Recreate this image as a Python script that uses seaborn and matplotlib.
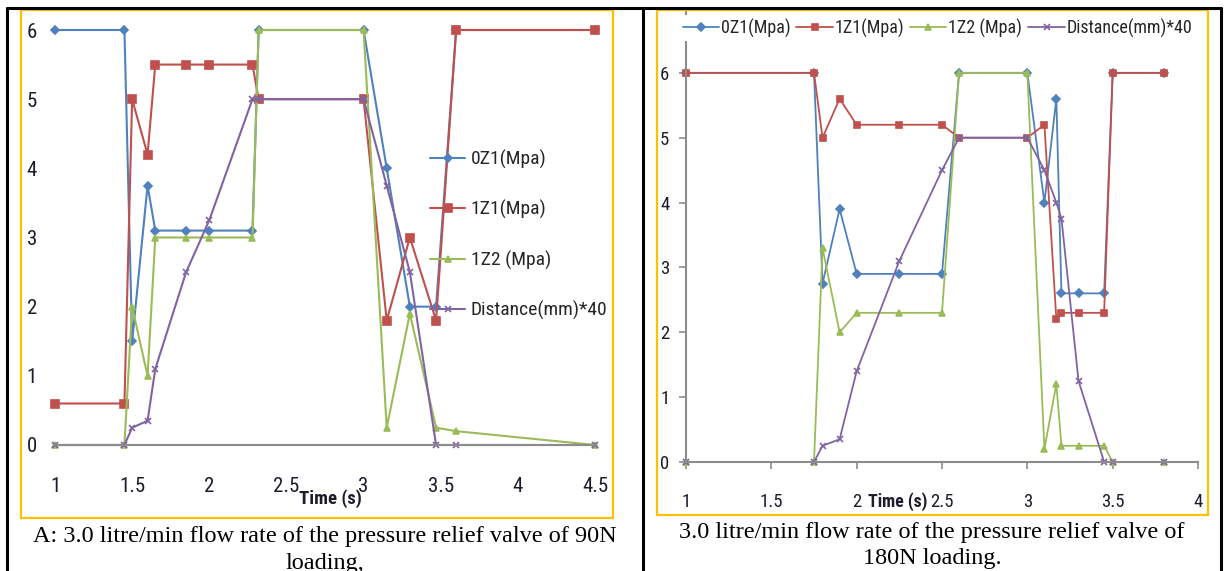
import numpy as np
import pandas as pd
import seaborn as sns
import matplotlib.pyplot as plt
from matplotlib import font_manager
from matplotlib.patches import Rectangle
from matplotlib.lines import Line2D

# series names and colours (Excel 2007 palette)
series = ['0Z1(Mpa)', '1Z1(Mpa)', '1Z2 (Mpa)', 'Distance(mm)*40']
colors = ['#4F81BD', '#C0504D', '#9BBB59', '#8064A2']
markers = ['D', 's', '^', 'x']

# panel A: 90N loading
time_a = [1, 1.45, 1.5, 1.6, 1.65, 1.85, 2.0, 2.28, 2.32, 3.0, 3.15, 3.3, 3.47, 3.6, 4.5]
oz1_a = [6, 6, 1.5, 3.75, 3.1, 3.1, 3.1, 3.1, 6, 6, 4.0, 2.0, 2.0, 6, 6]
z11_a = [0.6, 0.6, 5.0, 4.2, 5.5, 5.5, 5.5, 5.5, 5.0, 5.0, 1.8, 3.0, 1.8, 6, 6]
z12_a = [0, 0, 2.0, 1.0, 3.0, 3.0, 3.0, 3.0, 6, 6, 0.25, 1.9, 0.25, 0.2, 0]
dist_a = [0, 0, 0.25, 0.35, 1.1, 2.5, 3.25, 5.0, 5.0, 5.0, 3.75, 2.5, 0, 0, 0]

# panel B: 180N loading
time_b = [1, 1.75, 1.8, 1.9, 2.0, 2.25, 2.5, 2.6, 3.0, 3.1, 3.17, 3.2, 3.3, 3.45, 3.5, 3.8]
oz1_b = [6, 6, 2.75, 3.9, 2.9, 2.9, 2.9, 6, 6, 4.0, 5.6, 2.6, 2.6, 2.6, 6, 6]
z11_b = [6, 6, 5.0, 5.6, 5.2, 5.2, 5.2, 5.0, 5.0, 5.2, 2.2, 2.3, 2.3, 2.3, 6, 6]
z12_b = [0, 0, 3.3, 2.0, 2.3, 2.3, 2.3, 6, 6, 0.2, 1.2, 0.25, 0.25, 0.25, 0, 0]
dist_b = [0, 0, 0.25, 0.35, 1.4, 3.1, 4.5, 5.0, 5.0, 4.5, 4.0, 3.75, 1.25, 0, 0, 0]

xticks_a = [1, 1.5, 2, 2.5, 3, 3.5, 4, 4.5]
xticks_b = [1, 1.5, 2, 2.5, 3, 3.5, 4]
yticks = [0, 1, 2, 3, 4, 5, 6]

caption_a = ['A: 3.0 litre/min flow rate of the pressure relief valve of 90N', 'loading,']
caption_b = ['3.0 litre/min flow rate of the pressure relief valve of', '180N loading.']


def long_df(t, cols):
    frames = [pd.DataFrame({'Time': t, 'Value': v, 'Series': s}) for s, v in zip(series, cols)]
    return pd.concat(frames, ignore_index=True)


def pick_font(names):
    for n in names:
        try:
            font_manager.findfont(font_manager.FontProperties(family=n), fallback_to_default=False)
            return n
        except ValueError:
            continue
    return 'DejaVu Sans'


df_a = long_df(time_a, [oz1_a, z11_a, z12_a, dist_a])
df_b = long_df(time_b, [oz1_b, z11_b, z12_b, dist_b])

sns.set_theme(style='white')
narrow = pick_font(['Liberation Sans Narrow', 'Roboto Condensed', 'DejaVu Sans Condensed',
                    'Open Sans Condensed'])
if narrow == 'DejaVu Sans':
    narrow = pick_font(['Liberation Sans', 'Roboto'])
    k = 0.86  # regular width font: shrink to keep text widths
else:
    k = 1.0
plt.rcParams['font.family'] = [narrow, 'DejaVu Sans']

W, H = 1226, 571
fig = plt.figure(figsize=(W / 100, H / 100), dpi=100)
fig.patch.set_facecolor('white')

ax1 = fig.add_axes([55 / W, 1 - 445 / H, 540 / W, 415 / H])
ax2 = fig.add_axes([686 / W, 1 - 462 / H, 512 / W, 454 / H])

tick_col = '#1c1c2c'
grey = '#8c8c8c'


def draw(ax, df, sizes, lw):
    for s, c, m, ms in zip(series, colors, markers, sizes):
        sns.lineplot(data=df[df['Series'] == s], x='Time', y='Value', ax=ax,
                     color=c, marker=m, markersize=ms, linewidth=lw,
                     markeredgecolor=c, markeredgewidth=1.2,
                     estimator=None, sort=False, legend=False)
    for ln in ax.lines:
        ln.set_clip_on(False)
    ax.set_xlabel('')
    ax.set_ylabel('')
    ax.set_facecolor('none')


# panel A
draw(ax1, df_a, [4, 6, 5, 5], 1.5)
ax1.set_xlim(1, 4.5)
ax1.set_ylim(0, 6)
ax1.set_xticks(xticks_a)
ax1.set_xticklabels([f'{v:g}' for v in xticks_a])
ax1.set_yticks(yticks)
for sp in ['top', 'right', 'left']:
    ax1.spines[sp].set_visible(False)
ax1.spines['bottom'].set_color(grey)
ax1.spines['bottom'].set_linewidth(1.5)
ax1.tick_params(axis='x', length=0, pad=23, labelsize=15 * k, labelcolor=tick_col)
ax1.tick_params(axis='y', length=0, pad=13, labelsize=15 * k, labelcolor=tick_col)
ax1.legend(handles=ax1.lines, labels=series, loc='center left',
           bbox_to_anchor=(430 / W, 1 - 235 / H), bbox_transform=fig.transFigure,
           frameon=False, fontsize=14 * k, handlelength=1.8 / k, handletextpad=0.3,
           labelspacing=1.6 / k, borderpad=0, borderaxespad=0, numpoints=1)
fig.text(330 / W, 1 - 499 / H, 'Time (s)', ha='center', va='center',
         fontsize=13.5 * k, fontweight='bold', color=tick_col)

# panel B
draw(ax2, df_b, [4, 5, 5, 5], 1.3)
ax2.set_xlim(1, 4)
ax2.set_ylim(0, 7)
ax2.set_xticks(xticks_b)
ax2.set_xticklabels([f'{v:g}' for v in xticks_b])
ax2.set_yticks(yticks)
for sp in ['top', 'right']:
    ax2.spines[sp].set_visible(False)
for sp in ['left', 'bottom']:
    ax2.spines[sp].set_color(grey)
    ax2.spines[sp].set_linewidth(1.5)
ax2.tick_params(axis='x', direction='out', length=5, width=1.2, color=grey, bottom=True,
                pad=17, labelsize=13.5 * k, labelcolor=tick_col)
ax2.tick_params(axis='y', direction='out', length=5, width=1.2, color=grey, left=True,
                pad=7, labelsize=13.5 * k, labelcolor=tick_col)
leg2 = ax2.legend(handles=ax2.lines, labels=series, loc='center left',
                  bbox_to_anchor=(679 / W, 1 - 28 / H), bbox_transform=fig.transFigure,
                  ncol=4, frameon=True, facecolor='white', edgecolor='none', framealpha=1,
                  fontsize=13 * k, handlelength=2.0 / k, handletextpad=0.1, columnspacing=0.35,
                  borderpad=0.2, borderaxespad=0, numpoints=1)
leg2.set_zorder(10)
fig.text(898 / W, 1 - 502 / H, 'Time (s)', ha='center', va='center',
         fontsize=12.8 * k, fontweight='bold', color=tick_col)

# orange chart borders
fig.patches.append(Rectangle((21 / W, 1 - 518 / H), 592 / W, 508 / H, transform=fig.transFigure,
                             fill=False, ec='#FFC000', lw=1.6))
fig.patches.append(Rectangle((657 / W, 1 - 515 / H), 551 / W, 505 / H, transform=fig.transFigure,
                             fill=False, ec='#FFC000', lw=1.6))

# black table lines
for x0, y0, x1, y1 in [(7, 8, 1221, 8), (7, 8, 7, 571), (643, 8, 643, 571), (1221, 8, 1221, 571)]:
    fig.add_artist(Line2D([x0 / W, x1 / W], [1 - y0 / H, 1 - y1 / H], transform=fig.transFigure,
                          color='black', lw=2.2))

# captions, one text per line
for (cx, ys, lines) in [(325, [542, 569], caption_a), (932, [538, 564], caption_b)]:
    for y, line in zip(ys, lines):
        fig.text(cx / W, 1 - y / H, line, ha='center', va='baseline', fontsize=17.5,
                 family='Liberation Serif', color='black')

fig.savefig('out.png', dpi=100)
